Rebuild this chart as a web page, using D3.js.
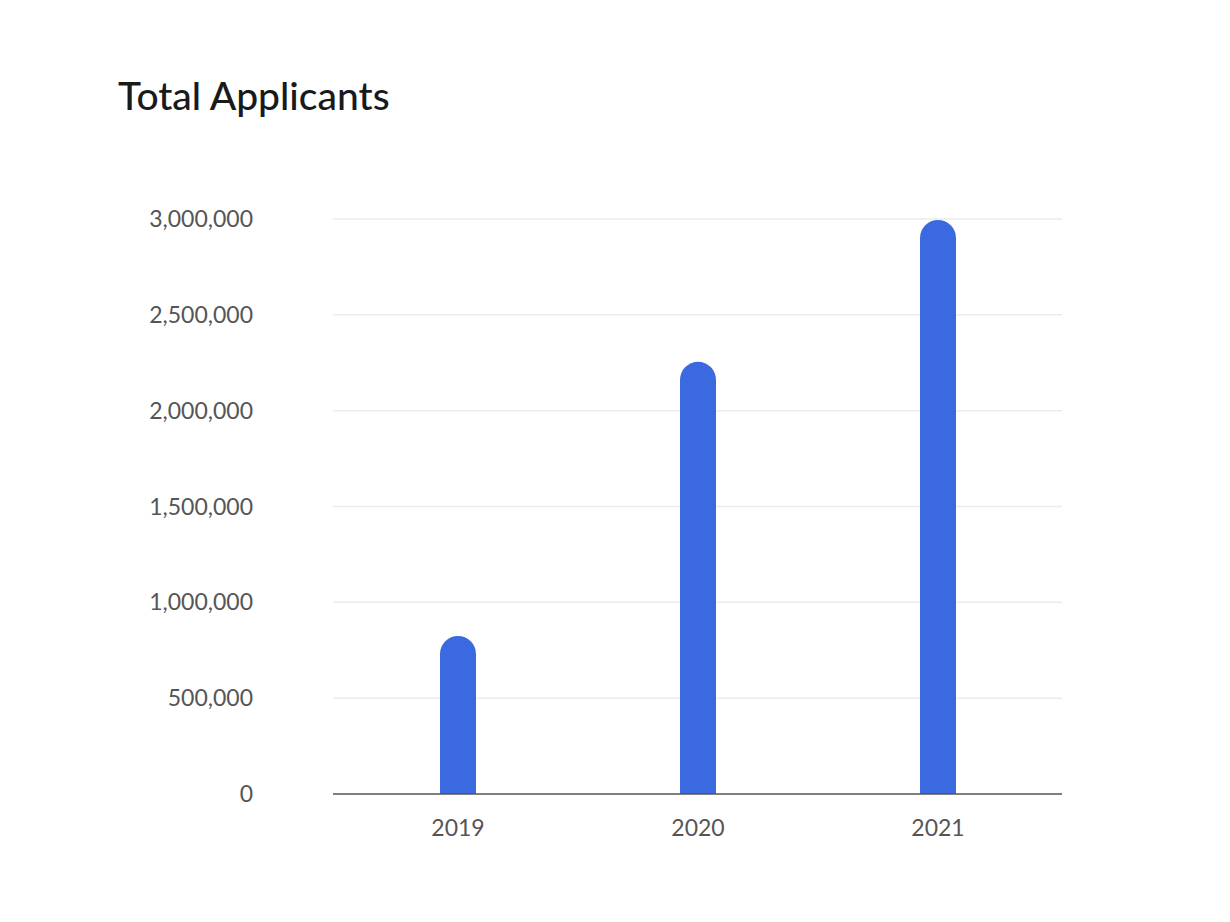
<!DOCTYPE html>
<html><head><meta charset="utf-8">
<script src="https://cdn.jsdelivr.net/npm/d3@7"></script>
<style>body{margin:0;background:#fff}svg{display:block}</style>
</head><body>
<script>
const categories = ["2019","2020","2021"];
const values = [825000, 2255000, 2995000];
const yTicks = [0,500000,1000000,1500000,2000000,2500000,3000000];

const W=1230,H=922;
const svg=d3.select("body").append("svg").attr("width",W).attr("height",H);
const font="Lato, 'Open Sans', sans-serif";
svg.append("text").attr("x",118).attr("y",110).text("Total Applicants")
  .attr("font-family",font).attr("font-size",39).attr("font-weight",500).attr("fill","#1a1a1a");

const y=d3.scaleLinear().domain([0,3000000]).range([794,219]);
const x=d3.scaleBand().domain(categories).range([338,1058]);
const bw=36;

svg.append("g").selectAll("line").data(yTicks.slice(1)).join("line")
  .attr("x1",333).attr("x2",1062).attr("y1",d=>y(d)).attr("y2",d=>y(d))
  .attr("stroke","#ebebeb").attr("stroke-width",1.5);

svg.append("g").selectAll("text").data(yTicks).join("text")
  .attr("x",253).attr("y",d=>y(d)+8).attr("text-anchor","end")
  .attr("font-family",font).attr("font-size",23).attr("fill","#555")
  .text(d=>d3.format(",")(d));

svg.append("g").selectAll("path").data(values).join("path")
  .attr("fill","#3b6ae0")
  .attr("d",(d,i)=>{
    const cx=x(categories[i])+x.bandwidth()/2, x0=cx-bw/2, r=bw/2, top=y(d), b=y(0);
    return `M${x0},${b}V${top+r}A${r},${r} 0 0 1 ${x0+bw},${top+r}V${b}Z`;
  });

svg.append("line").attr("x1",333).attr("x2",1062).attr("y1",794).attr("y2",794)
  .attr("stroke","#555").attr("stroke-width",1.5);

svg.append("g").selectAll("text").data(categories).join("text")
  .attr("x",d=>x(d)+x.bandwidth()/2).attr("y",836).attr("text-anchor","middle")
  .attr("font-family",font).attr("font-size",23).attr("fill","#555").text(d=>d);
</script>
</body></html>
